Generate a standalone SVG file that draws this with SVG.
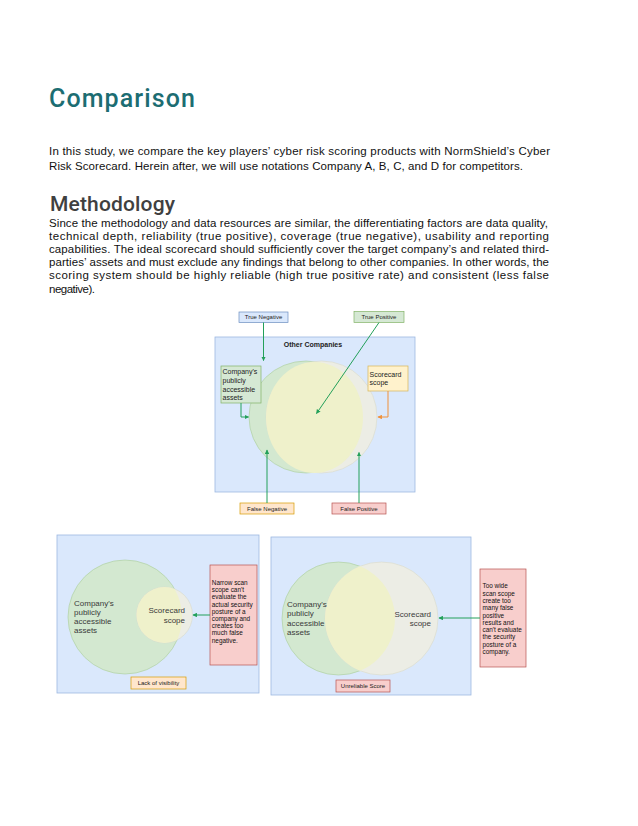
<svg xmlns="http://www.w3.org/2000/svg" width="638" height="826" viewBox="0 0 638 826">
<style>
.body{font-family:"Liberation Sans",Arial,sans-serif;font-size:11.5px;fill:#111}
.h1{font-family:Roboto,"Liberation Sans",Arial,sans-serif;font-weight:500;font-size:25px;fill:#1c6d72}
.h2{font-family:Roboto,"Liberation Sans",Arial,sans-serif;font-weight:500;font-size:21px;fill:#404040}
.t{font-family:"Liberation Sans",Arial,sans-serif;fill:#222}
.s6{font-size:6px}
.s7{font-size:7px}
.s8{font-size:8px;fill:#3a3a3a}
.note{font-size:6.4px;fill:#111}
.panel{fill:#dae8fc;stroke:#9db8e0;stroke-width:0.8}
.blue{fill:#dae8fc;stroke:#6c8ebf;stroke-width:0.7}
.green{fill:#d5e8d4;stroke:#82b366;stroke-width:0.7}
.yel{fill:#fff2cc;stroke:#d6b656;stroke-width:0.7}
.orange{fill:#ffe6cc;stroke:#d79b00;stroke-width:0.7}
.red{fill:#f8cecc;stroke:#b85450;stroke-width:0.7}
.cg{fill:#d3e8d0;stroke:#a9cc9c;stroke-width:0.6}
.cw{fill:#ecede5;stroke:#d9dacb;stroke-width:0.6}
.cy{fill:#eff1cb}
.lg{fill:none;stroke:#23a05a;stroke-width:1;marker-end:url(#ag)}
.lo{fill:none;stroke:#f0913a;stroke-width:1;marker-end:url(#ao)}
</style>
<defs>
<marker id="ag" viewBox="0 0 8 8" refX="7" refY="4" markerWidth="4.5" markerHeight="4.5" markerUnits="userSpaceOnUse" orient="auto"><path d="M0,0 L8,4 L0,8 z" fill="#23a05a"/></marker>
<marker id="ao" viewBox="0 0 8 8" refX="7" refY="4" markerWidth="4.5" markerHeight="4.5" markerUnits="userSpaceOnUse" orient="auto"><path d="M0,0 L8,4 L0,8 z" fill="#f0913a"/></marker>
<clipPath id="clipL"><circle cx="125" cy="617" r="57"/></clipPath>
<clipPath id="clipR"><circle cx="338.5" cy="618.5" r="56.5"/></clipPath>
</defs>
<rect width="638" height="826" fill="#ffffff"/>

<g id="text">
<text class="h1" x="49" y="107" textLength="146">Comparison</text>
<text class="body" x="49" y="154.5" textLength="501">In this study, we compare the key players’ cyber risk scoring products with NormShield’s Cyber</text>
<text class="body" x="49" y="170" textLength="474">Risk Scorecard. Herein after, we will use notations Company A, B, C, and D for competitors.</text>
<text class="h2" x="50" y="211" textLength="125">Methodology</text>
<text class="body" x="49" y="226.5" textLength="499">Since the methodology and data resources are similar, the differentiating factors are data quality,</text>
<text class="body" x="49" y="239.7" textLength="500">technical depth, reliability (true positive), coverage (true negative), usability and reporting</text>
<text class="body" x="49" y="252.9" textLength="500">capabilities. The ideal scorecard should sufficiently cover the target company’s and related third-</text>
<text class="body" x="49" y="266.1" textLength="500">parties’ assets and must exclude any findings that belong to other companies. In other words, the</text>
<text class="body" x="49" y="279.3" textLength="500">scoring system should be highly reliable (high true positive rate) and consistent (less false</text>
<text class="body" x="49" y="292.5" textLength="46">negative).</text>
</g>

<!-- Top diagram -->
<g id="other-companies">
<rect class="panel" x="215" y="337" width="200" height="155"/>
<text class="t s7" x="313" y="346.5" text-anchor="middle" font-weight="bold" fill="#333">Other Companies</text>
</g>
<g id="venn-top">
<ellipse class="cg" cx="306" cy="417" rx="57" ry="56"/>
<ellipse class="cw" cx="321.5" cy="417" rx="55.5" ry="56"/>
<ellipse class="cy" cx="314.5" cy="417.5" rx="48.5" ry="55.5"/>
</g>
<g id="true-negative">
<rect class="blue" x="239" y="312" width="49" height="10.5"/>
<text class="t s6" x="263.5" y="319.3" text-anchor="middle">True Negative</text>
</g>
<g id="true-positive">
<rect class="green" x="354" y="311.5" width="50" height="11"/>
<text class="t s6" x="379" y="319.2" text-anchor="middle">True Positive</text>
</g>
<g id="company-assets-box">
<rect class="green" x="221" y="366" width="40" height="37"/>
<text class="t s7" x="222.5" y="374">Company's</text>
<text class="t s7" x="222.5" y="382.8">publicly</text>
<text class="t s7" x="222.5" y="391.6">accessible</text>
<text class="t s7" x="222.5" y="400.4">assets</text>
</g>
<g id="scorecard-scope-box">
<rect class="yel" x="368" y="366" width="40" height="25"/>
<text class="t s7" x="369.5" y="376.5">Scorecard</text>
<text class="t s7" x="369.5" y="385.2">scope</text>
</g>
<g id="false-negative">
<rect class="orange" x="240" y="503" width="54" height="11"/>
<text class="t s6" x="267" y="510.8" text-anchor="middle">False Negative</text>
</g>
<g id="false-positive">
<rect class="red" x="332" y="503" width="54" height="11"/>
<text class="t s6" x="359" y="510.8" text-anchor="middle">False Positive</text>
</g>

<!-- Bottom left diagram -->
<g id="panel-left">
<rect class="panel" x="57" y="535" width="202" height="158"/>
</g>
<g id="venn-left">
<circle class="cg" cx="125" cy="617" r="57"/>
<circle class="cw" cx="164.5" cy="615" r="28"/>
<circle class="cy" cx="164.5" cy="615" r="28" clip-path="url(#clipL)"/>
<text class="t s8" x="74" y="605.5">Company's</text>
<text class="t s8" x="74" y="614.5">publicly</text>
<text class="t s8" x="74" y="623.5">accessible</text>
<text class="t s8" x="74" y="632.5">assets</text>
<text class="t s8" x="185" y="613" text-anchor="end">Scorecard</text>
<text class="t s8" x="185" y="622.5" text-anchor="end">scope</text>
</g>
<g id="note-narrow">
<rect class="red" x="210" y="565" width="47" height="100"/>
<text class="t note" x="211.8" y="585">Narrow scan</text>
<text class="t note" x="211.8" y="592.2">scope can't</text>
<text class="t note" x="211.8" y="599.4">evaluate the</text>
<text class="t note" x="211.8" y="606.6">actual security</text>
<text class="t note" x="211.8" y="613.8">posture of a</text>
<text class="t note" x="211.8" y="621">company and</text>
<text class="t note" x="211.8" y="628.2">creates too</text>
<text class="t note" x="211.8" y="635.4">much false</text>
<text class="t note" x="211.8" y="642.6">negative.</text>
</g>
<g id="lack-of-visibility">
<rect class="orange" x="131" y="677" width="55" height="12"/>
<text class="t s6" x="158.5" y="685.3" text-anchor="middle">Lack of visibility</text>
</g>

<!-- Bottom right diagram -->
<g id="panel-right">
<rect class="panel" x="271" y="537" width="200" height="158"/>
</g>
<g id="venn-right">
<circle class="cg" cx="338.5" cy="618.5" r="56.5"/>
<circle class="cw" cx="381.5" cy="618.5" r="56.5"/>
<circle class="cy" cx="381.5" cy="618.5" r="56.5" clip-path="url(#clipR)"/>
<text class="t s8" x="287" y="607">Company's</text>
<text class="t s8" x="287" y="616.3">publicly</text>
<text class="t s8" x="287" y="625.5">accessible</text>
<text class="t s8" x="287" y="634.5">assets</text>
<text class="t s8" x="431" y="617" text-anchor="end">Scorecard</text>
<text class="t s8" x="431" y="626.3" text-anchor="end">scope</text>
</g>
<g id="note-wide">
<rect class="red" x="480" y="569" width="46" height="98"/>
<text class="t note" x="482.5" y="588.3">Too wide</text>
<text class="t note" x="482.5" y="595.6">scan scope</text>
<text class="t note" x="482.5" y="602.9">create too</text>
<text class="t note" x="482.5" y="610.2">many false</text>
<text class="t note" x="482.5" y="617.5">positive</text>
<text class="t note" x="482.5" y="624.8">results and</text>
<text class="t note" x="482.5" y="632.1">can't evaluate</text>
<text class="t note" x="482.5" y="639.4">the security</text>
<text class="t note" x="482.5" y="646.7">posture of a</text>
<text class="t note" x="482.5" y="654">company.</text>
</g>
<g id="unreliable-score">
<rect class="red" x="336" y="680" width="54" height="12"/>
<text class="t s6" x="363" y="688.3" text-anchor="middle">Unreliable Score</text>
</g>

<g id="connectors">
<path class="lg" d="M263.5,322.5 L263.5,360.5"/>
<path class="lg" d="M379,322.5 L316.5,413.5"/>
<path class="lg" d="M241,403 L241,417 L248.5,417"/>
<path class="lo" d="M388,391 L388,417 L378,417"/>
<path class="lg" d="M267,503 L267,450"/>
<path class="lg" d="M359,503 L359,452.5"/>
<path class="lg" d="M210,615 L193,615"/>
<path class="lg" d="M480,618 L439,618"/>
</g>
</svg>
